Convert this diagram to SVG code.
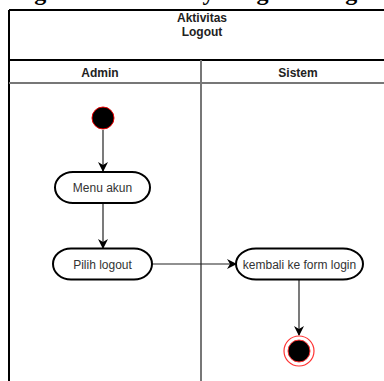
<svg xmlns="http://www.w3.org/2000/svg" width="384" height="381" viewBox="0 0 384 381">
  <style>
    .caption { font-family: "Liberation Serif", "Times New Roman", serif; font-weight: bold; font-size: 24px; fill: #000; }
    .title { font-family: "Liberation Sans", Arial, sans-serif; font-weight: bold; font-size: 12px; fill: #222; text-anchor: middle; }
    .label { font-family: "Liberation Sans", Arial, sans-serif; font-size: 12px; fill: #333; text-anchor: middle; }
    .frame { fill: none; stroke: #000; stroke-width: 2; }
    .lane { fill: none; stroke: #777; stroke-width: 2; }
    .action { fill: #fff; stroke: #000; stroke-width: 2; }
    .edge { fill: none; stroke: #222; stroke-width: 1.2; }
  </style>
  <defs>
    <marker id="arrow" viewBox="0 0 10 10" refX="9" refY="5" markerWidth="10" markerHeight="10" markerUnits="userSpaceOnUse" orient="auto">
      <path d="M0,0 L10,5 L0,10 L3,5 Z" fill="#000"/>
    </marker>
  </defs>

  <rect width="384" height="381" fill="#fff"/>

  <!-- caption above the frame, only its descenders reach the page -->
  <text class="caption" x="13" y="0">Figure 4.16 Activity Diagram Logout</text>

  <!-- swimlane frame -->
  <g id="pool">
    <rect x="9" y="11" width="390" height="380" fill="#fff" stroke="none"/>
    <line class="frame" x1="9" y1="10" x2="384" y2="10"/>
    <line class="frame" x1="9" y1="10" x2="9" y2="381"/>
    <line class="frame" x1="9" y1="60" x2="384" y2="60"/>
    <line class="lane" x1="9" y1="83" x2="384" y2="83"/>
    <line class="lane" x1="201" y1="60" x2="201" y2="381"/>
    <text class="title" x="202" y="22">Aktivitas</text>
    <text class="title" x="202" y="36">Logout</text>
    <text class="title" x="100" y="76.5">Admin</text>
    <text class="title" x="298" y="76.5">Sistem</text>
  </g>

  <!-- connectors -->
  <g id="edges">
    <line class="edge" x1="103" y1="130" x2="103" y2="171" marker-end="url(#arrow)"/>
    <line class="edge" x1="103" y1="203" x2="103" y2="248" marker-end="url(#arrow)"/>
    <line class="edge" x1="152" y1="264" x2="236" y2="264" marker-end="url(#arrow)"/>
    <line class="edge" x1="299" y1="280" x2="299" y2="335" marker-end="url(#arrow)"/>
  </g>

  <g id="start">
    <circle cx="103" cy="118" r="11" fill="#000" stroke="#e00" stroke-width="1"/>
  </g>

  <g id="menu-akun">
    <rect class="action" x="55" y="172" width="95" height="31" rx="18" ry="15.5"/>
    <text class="label" x="102.5" y="192">Menu akun</text>
  </g>

  <g id="pilih-logout">
    <rect class="action" x="53" y="248.5" width="99" height="31" rx="18" ry="15.5"/>
    <text class="label" x="102.5" y="268.5">Pilih logout</text>
  </g>

  <g id="kembali-login">
    <rect class="action" x="236" y="248.5" width="127" height="31" rx="20" ry="15.5"/>
    <text class="label" x="299.5" y="268.5">kembali ke form login</text>
  </g>

  <g id="end">
    <circle cx="299" cy="351" r="15" fill="#fff" stroke="#f33" stroke-width="1.2"/>
    <circle cx="299" cy="351" r="11" fill="#000" stroke="#f33" stroke-width="1"/>
  </g>
</svg>
